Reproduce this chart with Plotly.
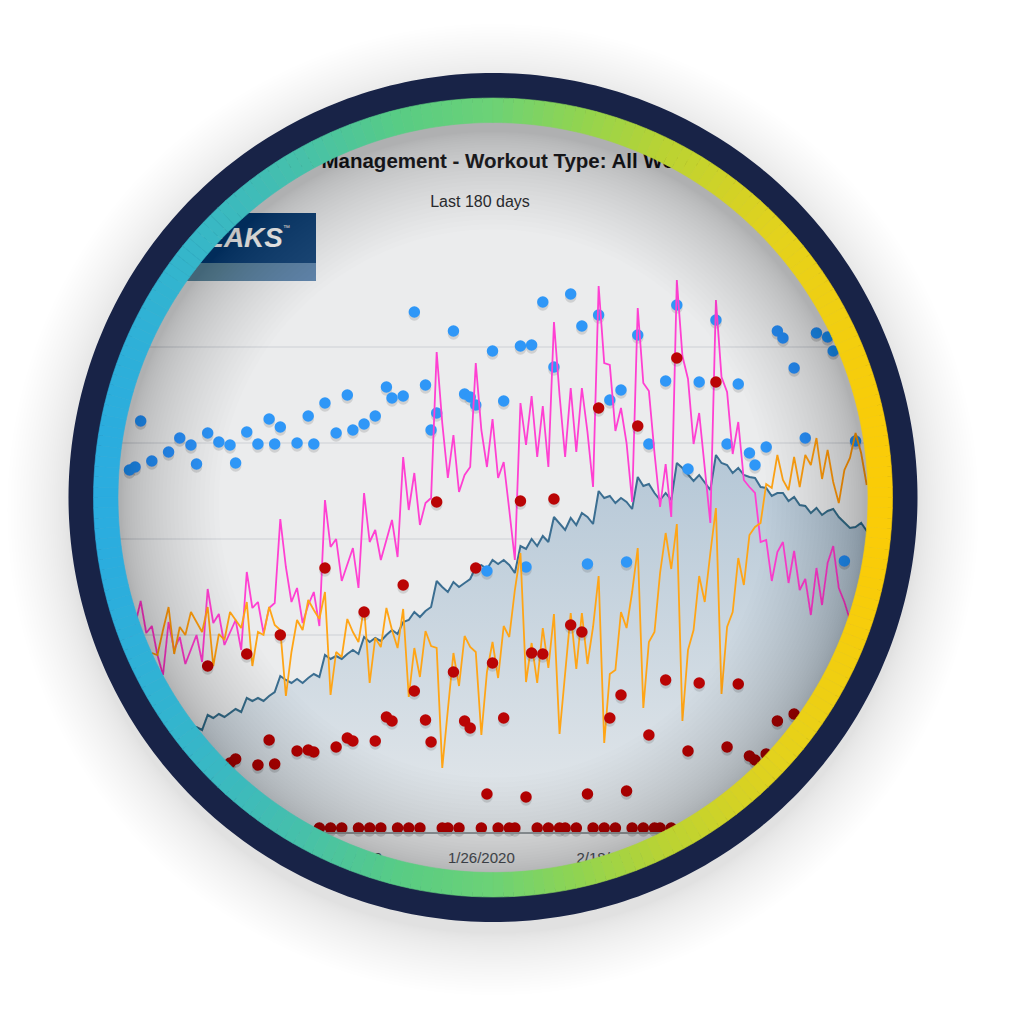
import math
import plotly.graph_objects as go

# ---- data (day index from the chart's first visible day, chart units) ----
tick_days = [40, 63, 86]
tick_labels = ["1/3/2020", "1/26/2020", "2/18/2020"]
grid_values = [102, 198, 294, 390, 486]

atl_start = 0
atl = [193,208,232,200,207,178,158,211,183,196,169,183,198,171,244,210,219,188,201,213,183,261,225,231,200,225,230,314,266,231,245,210,228,241,207,333,286,294,252,268,285,245,340,291,303,273,293,313,276,376,323,360,308,330,335,481,410,355,398,341,358,366,470,403,366,414,355,371,323,273,430,388,437,376,427,366,511,438,376,445,381,445,401,346,547,470,468,402,425,390,331,525,450,442,380,326,369,316,553,477,454,389,420,365,310,533,456,441,379,411,353,346,340,291,293,252,281,291,250,282,243,254,218,265,228,270,287,245,231,213,183]

tsb_start = 4
tsb = [180,178,203,226,179,206,198,221,211,201,226,167,199,193,221,213,205,231,167,201,198,226,208,203,137,181,213,203,233,223,214,241,138,181,176,214,201,191,226,150,195,186,225,203,185,224,136,185,156,202,187,185,65,123,180,147,197,186,181,98,161,191,155,207,196,243,280,151,190,150,205,165,219,99,163,220,164,220,169,206,257,90,159,163,221,205,241,285,125,191,201,260,300,264,309,112,183,203,257,231,280,325,139,206,221,275,248,298,306,310,349,345,378,353,343,376,346,378,368,395,354,383,351,330,363,375,400,380,348]

ctl_start = 11
ctl = [104,106,103,118,115,119,116,120,124,121,135,132,135,132,137,141,157,153,150,154,150,155,159,156,178,174,177,174,179,183,179,196,191,195,192,198,203,199,211,213,221,216,222,226,252,246,241,251,246,250,254,266,268,264,273,269,273,268,260,287,284,294,287,297,291,316,310,303,315,308,320,316,309,342,335,337,330,335,331,324,356,347,349,340,333,340,333,370,365,359,352,358,351,343,378,370,368,360,365,358,356,355,346,345,337,340,340,332,336,328,327,320,325,318,322,324,316,310,305,306,310,302,300]

blue_days = [0,1,2,4,7,9,11,12,14,16,18,19,21,23,25,26,27,30,32,33,35,37,39,40,42,44,46,47,49,51,53,54,55,58,60,61,62,64,65,67,70,71,72,74,76,79,81,82,84,86,88,89,91,93,96,98,100,102,105,107,109,111,112,114,116,117,119,121,123,125,126,128,130]
blue_vals = [363,366,412,372,381,395,388,369,400,391,388,370,401,389,414,389,406,390,417,389,430,400,438,403,409,417,446,435,437,521,448,403,420,502,439,436,428,262,482,432,487,266,488,531,466,539,507,269,518,433,443,271,498,389,452,528,364,451,513,389,449,380,368,386,502,495,465,395,500,496,482,272,392]

red_days = [14,18,19,21,23,25,26,27,30,32,33,34,35,36,37,38,39,40,41,42,43,44,45,46,47,48,49,50,51,52,53,54,55,56,57,58,59,60,61,62,63,64,65,66,67,68,69,70,71,72,73,74,75,76,77,78,79,80,81,82,83,84,85,86,87,88,89,90,91,92,93,94,95,96,97,98,100,102,105,107,109,111,112,114,116,119]
red_vals = [167,70,74,179,68,93,69,198,82,83,81,5,265,5,86,5,95,92,5,221,5,92,5,116,112,5,248,5,142,5,113,91,331,5,5,161,5,112,105,265,5,39,170,5,115,5,5,332,36,180,5,179,5,334,5,5,208,5,201,39,5,425,5,115,5,138,42,5,407,5,98,5,5,153,5,475,82,150,451,86,149,77,73,79,112,119]

TITLE = "Performance Management - Workout Type: All Workouts"
SUBTITLE = "Last 180 days"
LOGO = "TRAININGPEAKS"

# ---- page geometry ----
S = 1010
CX, CY = 493, 497.5
X0, DX = 129.5, 5.585
Y0 = 833

def dx(px): return (px - X0) / DX
def dy(py): return Y0 - py
def fx(px): return px / S
def fy(py): return 1 - py / S

def circle(r, cx=CX, cy=CY, n=360):
    pts = [(cx + r * math.cos(2 * math.pi * i / n), cy + r * math.sin(2 * math.pi * i / n)) for i in range(n)]
    return "M" + "L".join(f"{fx(a):.5f},{fy(b):.5f}" for a, b in pts) + "Z"

def box(x0, y0, x1, y1):
    return f"M{fx(x0):.5f},{fy(y0):.5f}L{fx(x1):.5f},{fy(y0):.5f}L{fx(x1):.5f},{fy(y1):.5f}L{fx(x0):.5f},{fy(y1):.5f}Z"

def pshape(path, fill, layer="above", line=None):
    return dict(type="path", xref="paper", yref="paper", path=path, fillcolor=fill, layer=layer,
                line=dict(width=line[1], color=line[0]) if line else dict(width=0))

RING_STOPS = [(93, (41, 171, 226)), (170, (50, 180, 208)), (300, (70, 192, 170)), (400, (88, 204, 132)),
              (493, (108, 210, 118)), (580, (145, 212, 80)), (660, (184, 211, 52)), (780, (228, 210, 28)), (892, (253, 203, 5))]

def ring_color(x):
    if x <= RING_STOPS[0][0]: return RING_STOPS[0][1]
    for (a, ca), (b, cb) in zip(RING_STOPS, RING_STOPS[1:]):
        if x <= b:
            t = (x - a) / (b - a)
            return tuple(round(ca[i] + (cb[i] - ca[i]) * t) for i in range(3))
    return RING_STOPS[-1][1]

shapes = []
# below the traces: chart background and logo
shapes.append(pshape(circle(405), "#ebeced", "below"))
shapes.append(pshape(box(120, 213, 316, 263), "#1f4a78", "below"))
shapes.append(pshape(box(120, 263, 316, 281), "#6188ad", "below"))

# inner vignette, above the traces
N = 30
for k in range(1, N + 1):
    r = 372 - 98 * (k / N) ** 1.5
    shapes.append(pshape(circle(402) + circle(r, CX, CY + 6), "rgba(0,0,0,0.0078)"))

# everything outside the badge is masked, then shadowed
shapes.append(pshape(box(-2, -2, S + 2, S + 2) + circle(410), "#ffffff"))
for k in range(1, N + 1):
    R = 424 + 62 * (k / N) ** 1.5
    shapes.append(pshape(circle(R, CX, CY + 12) + circle(410), "rgba(0,0,0,0.0042)"))

# navy ring and the horizontally graded colour ring
shapes.append(pshape(circle(424.5) + circle(395), "#182347"))
SEG = 240
for i in range(SEG):
    a0 = 2 * math.pi * i / SEG
    a1 = 2 * math.pi * (i + 1) / SEG
    ro, ri = 399.5, 375
    p = [(CX + ro * math.cos(a0), CY + ro * math.sin(a0)), (CX + ro * math.cos(a1), CY + ro * math.sin(a1)),
         (CX + ri * math.cos(a1), CY + ri * math.sin(a1)), (CX + ri * math.cos(a0), CY + ri * math.sin(a0))]
    mx = CX + (ro + ri) / 2 * math.cos((a0 + a1) / 2)
    c = "rgb(%d,%d,%d)" % ring_color(mx)
    path = "M" + "L".join(f"{fx(a):.5f},{fy(b):.5f}" for a, b in p) + "Z"
    shapes.append(pshape(path, c, "above", (c, 0.6)))

fig = go.Figure()

def dots(days, vals, color, name):
    fig.add_trace(go.Scatter(x=days, y=[v - 3 for v in vals], mode="markers", hoverinfo="skip", showlegend=False,
                             marker=dict(size=11.5, color="rgba(60,60,60,0.16)", line=dict(width=0))))
    fig.add_trace(go.Scatter(x=days, y=vals, mode="markers", name=name, showlegend=False,
                             marker=dict(size=11.5, color=color, line=dict(width=0))))

fig.add_trace(go.Scatter(
    x=list(range(ctl_start, ctl_start + len(ctl))), y=ctl, mode="lines", name="CTL", showlegend=False,
    line=dict(color="#3b6e91", width=2), fill="tozeroy",
    fillgradient=dict(type="vertical", start=0, stop=370, colorscale=[[0, "#e4e8eb"], [1, "#b6c8d7"]]),
))
dots(blue_days, blue_vals, "#2f97f7", "IF")
fig.add_trace(go.Scatter(x=list(range(atl_start, atl_start + len(atl))), y=atl, mode="lines", name="ATL",
                         showlegend=False, line=dict(color="#ff40d2", width=1.8)))
fig.add_trace(go.Scatter(x=list(range(tsb_start, tsb_start + len(tsb))), y=tsb, mode="lines", name="TSB",
                         showlegend=False, line=dict(color="#ffa516", width=1.8)))
dots(red_days, red_vals, "#ba0505", "TSS")

fig.add_trace(go.Scatter(x=[dx(464)], y=[dy(163)], mode="text", text=[f"<b>{TITLE}</b>"], showlegend=False, hoverinfo="skip",
                         textposition="middle center",
                         textfont=dict(family="Liberation Sans", size=20.5, color="#2b2b2e")))
fig.add_trace(go.Scatter(x=[dx(480)], y=[dy(203)], mode="text", text=[SUBTITLE], showlegend=False, hoverinfo="skip",
                         textposition="middle center",
                         textfont=dict(family="Liberation Sans", size=16, color="#2f3033")))
fig.add_trace(go.Scatter(x=[dx(283)], y=[dy(240)], mode="text", text=[f"<b><i>{LOGO}</i></b>"], showlegend=False, hoverinfo="skip",
                         textposition="middle left",
                         textfont=dict(family="Liberation Sans", size=28, color="#ffffff")))
fig.add_trace(go.Scatter(x=[dx(283)], y=[dy(228)], mode="text", text=["\u2122"], showlegend=False, hoverinfo="skip",
                         textposition="middle right",
                         textfont=dict(family="Liberation Sans", size=7, color="#ffffff")))

fig.update_layout(
    width=S, height=S, margin=dict(l=0, r=0, t=0, b=0), autosize=False,
    paper_bgcolor="#ffffff", plot_bgcolor="rgba(0,0,0,0)", shapes=shapes, hovermode=False,
    xaxis=dict(range=[dx(0), dx(S)], tickmode="array", tickvals=tick_days, ticktext=tick_labels,
               showgrid=False, zeroline=False, anchor="free", position=fy(833), showline=True,
               linecolor="#9ea3a7", linewidth=2, ticks="outside", ticklen=11, tickcolor="rgba(0,0,0,0)",
               tickfont=dict(family="Liberation Sans", size=15, color="#50545a")),
    yaxis=dict(range=[dy(S), dy(0)], tickmode="array", tickvals=grid_values, showticklabels=False,
               showgrid=True, gridcolor="#dcdee1", gridwidth=2, zeroline=False, showline=False, ticks=""),
)

fig.write_html("out.html", config=dict(displayModeBar=False),
               post_script="document.body.style.margin='0';document.body.style.overflow='hidden';")
